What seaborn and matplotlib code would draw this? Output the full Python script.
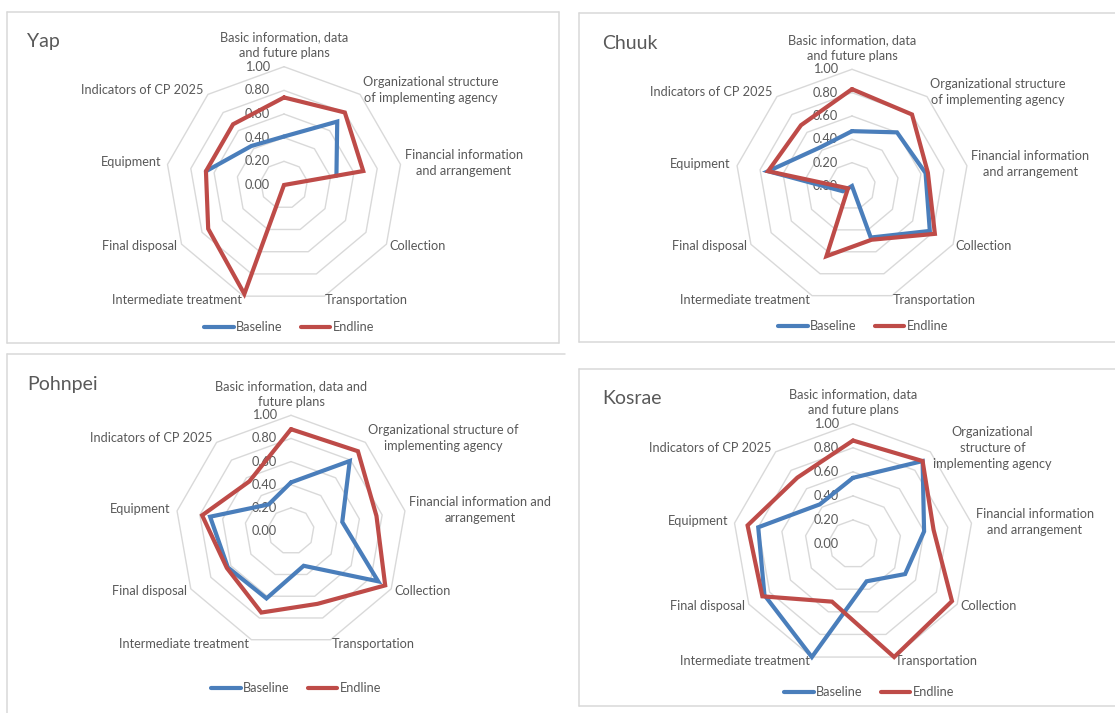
import numpy as np
import pandas as pd
import matplotlib
matplotlib.use("Agg")
import matplotlib.pyplot as plt
from matplotlib.lines import Line2D
import seaborn as sns

sns.set_theme(style="white")
plt.rcParams["font.family"] = ["Lato", "DejaVu Sans"]

# ---- data -----------------------------------------------------------------
categories = [
    "Basic information, data and future plans",
    "Organizational structure of implementing agency",
    "Financial information and arrangement",
    "Collection",
    "Transportation",
    "Intermediate treatment",
    "Final disposal",
    "Equipment",
    "Indicators of CP 2025",
]
series_names = ["Baseline", "Endline"]
ring_levels = [0.0, 0.2, 0.4, 0.6, 0.8, 1.0]
ring_labels = ["0.00", "0.20", "0.40", "0.60", "0.80", "1.00"]

nan = np.nan
yap_baseline = [0.41, 0.70, 0.45, nan, nan, nan, nan, 0.67, 0.43]
yap_endline = [0.74, 0.80, 0.68, 0.00, 0.00, 0.98, 0.74, 0.67, 0.67]
chuuk_baseline = [0.47, 0.60, 0.64, 0.77, 0.47, 0.00, 0.09, 0.73, 0.43]
chuuk_endline = [0.83, 0.80, 0.66, 0.82, 0.49, 0.64, 0.04, 0.73, 0.68]
pohnpei_baseline = [0.42, 0.79, 0.45, 0.87, 0.32, 0.62, 0.63, 0.71, 0.30]
pohnpei_endline = [0.88, 0.90, 0.75, 0.94, 0.67, 0.75, 0.64, 0.78, 0.56]
kosrae_baseline = [0.55, 0.90, 0.60, 0.50, 0.33, 1.00, 0.85, 0.80, 0.43]
kosrae_endline = [0.86, 0.90, 0.68, 0.95, 1.00, 0.51, 0.87, 0.89, 0.72]

# category labels as wrapped in each chart
labels_narrow = [
    "Basic information, data\nand future plans",
    "Organizational structure\nof implementing agency",
    "Financial information\nand arrangement",
    "Collection", "Transportation", "Intermediate treatment",
    "Final disposal", "Equipment", "Indicators of CP 2025",
]
labels_wide = [
    "Basic information, data and\nfuture plans",
    "Organizational structure of\nimplementing agency",
    "Financial information and\narrangement",
    "Collection", "Transportation", "Intermediate treatment",
    "Final disposal", "Equipment", "Indicators of CP 2025",
]
labels_stacked = [
    "Basic information, data\nand future plans",
    "Organizational\nstructure of\nimplementing agency",
    "Financial information\nand arrangement",
    "Collection", "Transportation", "Intermediate treatment",
    "Final disposal", "Equipment", "Indicators of CP 2025",
]

# ---- styling ----------------------------------------------------------------
W, H = 1115, 713
BLUE = "#4A7EBB"
RED = "#BE4B48"
GRID = "#D9D9D9"
TEXT = "#595959"
FS = 9.2

fig = plt.figure(figsize=(W / 100, H / 100), dpi=100)
fig.patch.set_facecolor("white")


def fx(x):
    return x / W


def fy(y):
    return 1 - y / H


def hline(x0, x1, y):
    fig.add_artist(Line2D([fx(x0), fx(x1)], [fy(y), fy(y)], transform=fig.transFigure,
                          color=GRID, lw=1.1))


def vline(x, y0, y1):
    fig.add_artist(Line2D([fx(x), fx(x)], [fy(y0), fy(y1)], transform=fig.transFigure,
                          color=GRID, lw=1.1))


# chart frames
hline(7, 559, 12); hline(7, 559, 343); vline(7, 12, 343); vline(559, 12, 343)
hline(579, 1115, 13); hline(579, 1115, 342); vline(579, 13, 342)
hline(7, 565, 354); vline(7, 354, 713)
hline(579, 1115, 369); hline(579, 1115, 706); vline(579, 369, 706)

n = len(categories)
thetas = np.arange(n) * 2 * np.pi / n
theta_closed = np.append(thetas, thetas[0])

# label placement: (ha, va, dx, dy) in points around each outer vertex
label_place = [
    ("center", "bottom", 0, 5.5),
    ("left", "center", 2, 3),
    ("left", "center", 3, 1),
    ("left", "center", 2, -1.5),
    ("left", "center", 0.5, -3),
    ("right", "center", -1.5, -3),
    ("right", "center", -3, -1.5),
    ("right", "center", -4.5, 1.5),
    ("right", "center", -3, 3),
]


def series_frame(values):
    vals = np.append(np.asarray(values, float), values[0])
    valid = ~np.isnan(vals)
    seg = np.cumsum(~valid)
    df = pd.DataFrame({"theta": theta_closed, "score": vals, "segment": seg})
    return df[valid]


def radar(name, baseline, endline, labels, cx, cy, R, title_xy, legend_xy):
    ax = fig.add_axes([fx(cx - R), fy(cy + R), fx(2 * R), 2 * R / H], projection="polar")
    ax.set_theta_zero_location("N")
    ax.set_theta_direction(-1)
    ax.set_axis_off()

    for lv in ring_levels[1:]:
        ax.plot(theta_closed, [lv] * len(theta_closed), color=GRID, lw=1.0,
                zorder=1, clip_on=False)

    for values, color, z in ((baseline, BLUE, 3), (endline, RED, 4)):
        sns.lineplot(data=series_frame(values), x="theta", y="score", units="segment",
                     estimator=None, sort=False, color=color, lw=3.0, ax=ax,
                     legend=False, clip_on=False, zorder=z, solid_joinstyle="miter")

    ax.set_ylim(0, 1)

    for lv, lab in zip(ring_levels, ring_labels):
        ax.annotate(lab, xy=(0, lv), xytext=(-10, 0), textcoords="offset points",
                    ha="right", va="center", fontsize=FS, color=TEXT,
                    annotation_clip=False, zorder=2)

    for th, lab, (ha, va, dx, dy) in zip(thetas, labels, label_place):
        ax.annotate(lab, xy=(th, 1.0), xytext=(dx, dy), textcoords="offset points",
                    ha=ha, va=va, fontsize=FS, color=TEXT, multialignment="center",
                    linespacing=1.4, annotation_clip=False)

    fig.text(fx(title_xy[0]), fy(title_xy[1]), name, ha="left", va="baseline",
             fontsize=14, color=TEXT)

    handles = [Line2D([], [], color=BLUE, lw=3.0), Line2D([], [], color=RED, lw=3.0)]
    fig.legend(handles, series_names, loc="center",
               bbox_to_anchor=(fx(legend_xy[0]), fy(legend_xy[1])), ncol=2,
               frameon=False, fontsize=FS, labelcolor=TEXT, handlelength=2.3,
               handletextpad=0.2, columnspacing=1.4, borderpad=0)


radar("Yap", yap_baseline, yap_endline, labels_narrow, 284, 185, 118.3, (27, 47), (289, 327))
radar("Chuuk", chuuk_baseline, chuuk_endline, labels_narrow, 852, 186, 116.7, (602, 49), (863, 326))
radar("Pohnpei", pohnpei_baseline, pohnpei_endline, labels_wide, 291, 531, 115.7, (27, 390), (296, 688))
radar("Kosrae", kosrae_baseline, kosrae_endline, labels_stacked, 853, 544, 120.3, (602, 404), (869, 692))

fig.savefig("out.png", dpi=100, facecolor="white")
